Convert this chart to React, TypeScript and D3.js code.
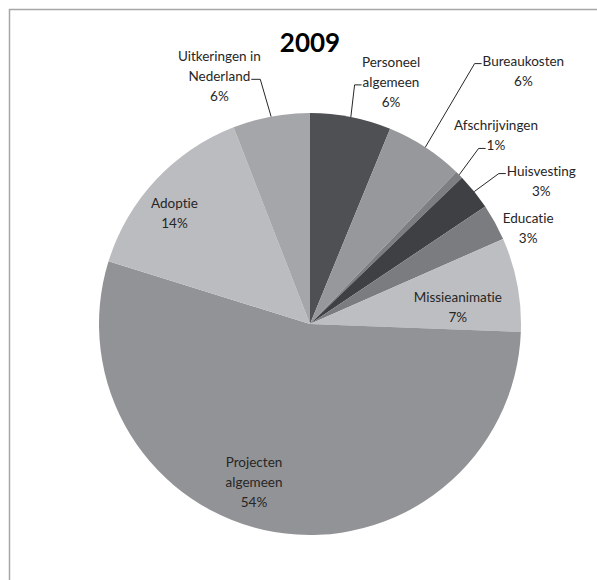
import React, { useEffect, useRef } from "react";
import * as d3 from "d3";

// uitgaven 2009, met de klok mee vanaf 12 uur
const categories = [
  "Personeel\nalgemeen",
  "Bureaukosten",
  "Afschrijvingen",
  "Huisvesting",
  "Educatie",
  "Missieanimatie",
  "Projecten\nalgemeen",
  "Adoptie",
  "Uitkeringen in\nNederland",
];
const shares = [6.2, 6.0, 0.6, 2.8, 2.8, 7.2, 54.2, 14.3, 5.9];
const sliceColors = [
  "#4f5054",
  "#97989c",
  "#7d7e82",
  "#3f4044",
  "#7b7c80",
  "#bdbec1",
  "#929397",
  "#bbbcbf",
  "#a5a6aa",
];

// plaats van de labels: hoek (graden) en straal als fractie van de pie
const labelAngle = [18.5, 40.1, 44.6, 58.2, 66.2, 83.6, 199.5, 309.3, 339.9];
const labelRadius = [1.21, 1.57, 1.255, 1.29, 1.13, 0.705, 0.795, 0.83, 1.25];
// welke regel de verbindingslijn raakt (null = geen lijn)
const leaderLine = [1, 0, 1, 0, null, null, null, null, 1];

const W = 597;
const H = 580;

const App = () => {
  const ref = useRef<SVGGElement | null>(null);

  const drawChart = () => {
    const cx = 310;
    const cy = 324;
    const radius = 211;
    const lineH = 20;
    const svg = d3.select(ref.current);
    svg.selectAll("*").remove();

    const pie = d3
      .pie<number>()
      .sort(null)
      .value((d) => d);
    const arcs = pie(shares);
    const arc = d3.arc<d3.PieArcDatum<number>>().innerRadius(0).outerRadius(radius);
    const pct = d3.format(".0f");

    const g = svg.append("g").attr("transform", `translate(${cx},${cy})`);

    g.selectAll("path.slice")
      .data(arcs)
      .enter()
      .append("path")
      .attr("class", "slice")
      .attr("d", arc)
      .attr("fill", (d, i) => sliceColors[i]);

    const toRad = (a: number) => (a * Math.PI) / 180;

    arcs.forEach((d, i) => {
      const a = toRad(labelAngle[i]);
      const lx = labelRadius[i] * radius * Math.sin(a);
      const ly = -labelRadius[i] * radius * Math.cos(a);
      const lines = categories[i].split("\n").concat(pct(shares[i]) + "%");
      const y0 = ly - ((lines.length - 1) * lineH) / 2;

      const text = g
        .append("text")
        .attr("text-anchor", "middle")
        .attr("dominant-baseline", "central")
        .attr("fill", "#262626")
        .style("font-family", "Lato, 'Open Sans', sans-serif")
        .style("font-variant-ligatures", "none")
        .style("font-size", "13.5px");
      const spans = lines.map((s, k) =>
        text
          .append("tspan")
          .attr("x", lx)
          .attr("y", y0 + k * lineH)
          .text(s)
      );

      const li = leaderLine[i];
      if (li !== null) {
        const node = spans[li].node() as SVGTextContentElement;
        const w = node.getComputedTextLength();
        const mid = (d.startAngle + d.endAngle) / 2;
        const px = radius * Math.sin(mid);
        const py = -radius * Math.cos(mid);
        const right = lx > px;
        const edge = right ? lx - w / 2 - 1 : lx + w / 2 + 1;
        const elbow = right ? edge - 7 : edge + 9;
        const yy = y0 + li * lineH + 3;
        g.append("path")
          .attr(
            "d",
            d3.line()([
              [px, py],
              [elbow, yy],
              [edge, yy],
            ]) as string
          )
          .attr("fill", "none")
          .attr("stroke", "#262626")
          .attr("stroke-width", 1);
      }
    });

    svg
      .append("text")
      .attr("x", cx)
      .attr("y", 52)
      .attr("text-anchor", "middle")
      .attr("fill", "#000")
      .style("font-family", "Lato, 'Open Sans', sans-serif")
      .style("font-weight", "bold")
      .style("font-size", "26px")
      .text("2009");
  };

  useEffect(() => {
    if (ref.current) drawChart();
  }, []);

  return (
    <svg
      width={W}
      height={H}
      style={{ position: "absolute", left: 0, top: 0, background: "#fff" }}
    >
      <rect
        x={9.5}
        y={9.5}
        width={W + 40}
        height={H + 40}
        fill="#fff"
        stroke="#a6a6a6"
        strokeWidth={1.5}
      />
      <g ref={ref}></g>
    </svg>
  );
};

export default App;
